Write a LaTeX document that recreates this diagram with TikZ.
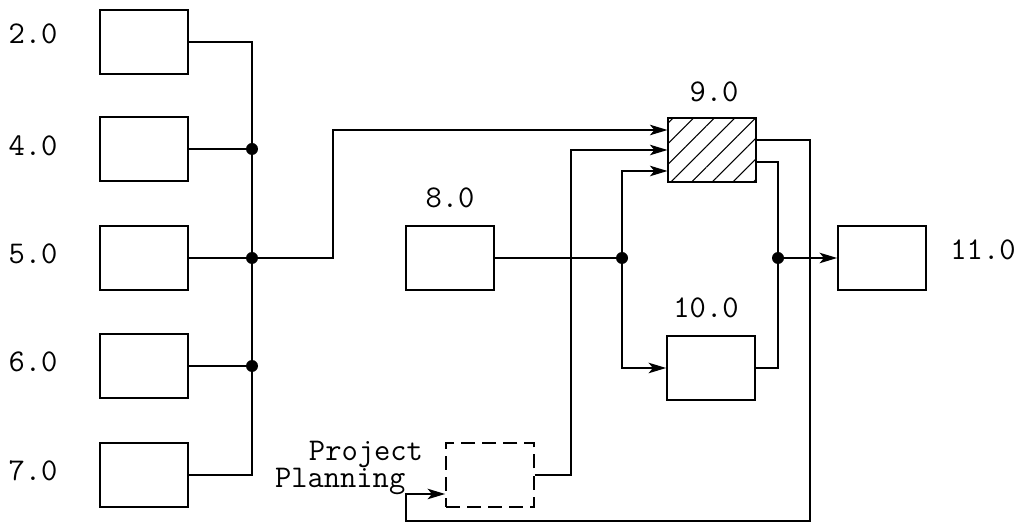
\documentclass[tikz,border=0pt]{standalone}
\usepackage{tikz}
\usetikzlibrary{positioning, arrows.meta, patterns.meta}

\begin{document}
\begin{tikzpicture}[
    x=0.02cm, y=-0.02cm,
    blk/.style={draw, line width=1pt, minimum width=1.76cm, minimum height=1.28cm, inner sep=0pt},
    num/.style={font=\ttfamily\fontsize{18}{20}\selectfont, inner sep=0pt},
    dot/.style={circle, fill, inner sep=0pt, minimum size=0.24cm},
    wire/.style={line width=0.8pt},
    arr/.style={wire, -{Stealth[length=10pt, width=6pt, inset=2.5pt]}},
]
\useasboundingbox (0,0) rectangle (1022,523);

% left column of tasks
\node[blk] (b2) at (144,42) {};
\node[blk] (b4) at (144,149) {};
\node[blk] (b5) at (144,258) {};
\node[blk] (b6) at (144,366) {};
\node[blk] (b7) at (144,475) {};
\node[num] (l2) at (33,34) {2.0};
\node[num] (l4) at (33,146) {4.0};
\node[num] (l5) at (33,254) {5.0};
\node[num] (l6) at (33,362) {6.0};
\node[num] (l7) at (33,471) {7.0};

% middle and right tasks
\node[blk] (b8) at (450,258) {};
\node[num, above=0.34cm of b8] (l8) {8.0};
\node[blk, pattern={Lines[angle=45, distance=8.3pt, line width=0.6pt]}] (b9) at (712,150) {};
\node[num] (l9) at (714,92) {9.0};
\node[blk] (b10) at (711,368) {};
\node[num] (l10) at (706,308) {10.0};
\node[blk] (b11) at (882,258) {};
\node[num] (l11) at (983,250) {11.0};

% project planning
\node[blk, dashed, dash pattern=on 8pt off 4pt] (bp) at (490,475) {};
\node[num, align=left] (lp) at (349,468) {\hspace{0.68cm}Project\\[-5pt]Planning};

% junctions
\node[dot] (j4) at (252,149) {};
\node[dot] (j5) at (252,258) {};
\node[dot] (j6) at (252,366) {};
\node[dot] (j8) at (622,258) {};
\node[dot] (j11) at (778,258) {};
\coordinate (up) at (333,258);
\coordinate (c1) at (571,150);
\coordinate (fb1) at (810,521);
\coordinate (fb2) at (406,521);

% bus on the left
\draw[wire] (b2.east) -| (j4);
\draw[wire] (j4) -- (j6);
\draw[wire] (b7.east) -| (j6);
\draw[wire] (b4) -- (j4);
\draw[wire] (b5) -- (j5);
\draw[wire] (b6) -- (j6);

% into 9.0
\draw[arr] (j5) -- (up) |- ([yshift=0.4cm]b9.west);
\draw[arr] (bp.east) -| (c1) -- (b9.west);
\draw[arr] (j8) |- ([yshift=-0.42cm]b9.west);
\draw[wire] (b8) -- (j8);
\draw[arr] (j8) |- (b10.west);

% out of 9.0 and 10.0
\draw[wire] ([yshift=-0.24cm]b9.east) -| (j11);
\draw[wire] (b10.east) -| (j11);
\draw[arr] (j11) -- (b11);
\draw[arr] ([yshift=0.2cm]b9.east) -| (fb1) -- (fb2) |- ([yshift=-0.38cm]bp.west);

\end{tikzpicture}
\end{document}
